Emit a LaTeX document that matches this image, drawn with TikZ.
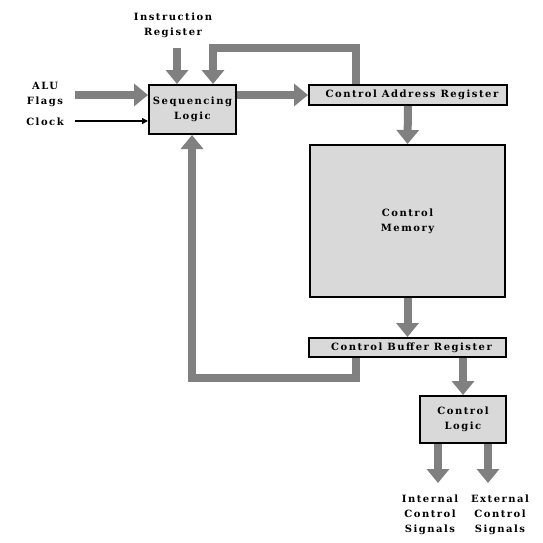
\documentclass[tikz,border=0pt]{standalone}
\usepackage{fontspec}
\setmainfont{DejaVu Serif}[LetterSpace=15]
\usetikzlibrary{positioning, arrows.meta}

\begin{document}
\begin{tikzpicture}
[
    x=1pt, y=-1pt, node distance=0.3cm,
    font=\bfseries\fontsize{10}{15}\selectfont,
    % The strategy is one box node per unit: box-<unit>
    % Loose ends of the buses are plain coordinates
]

%=================================== Start ===================================
\tikzstyle{box}  = [draw, line width=2pt, fill=gray!30, align=center, inner sep=0pt]
\tikzstyle{bus}  = [draw=gray, line width=8pt, -{Triangle[width=22pt, length=14pt]}]
\tikzstyle{wire} = [draw, line width=1.6pt, -{Triangle[length=6pt, width=6pt]}]
\tikzstyle{lbl}  = [align=center, inner sep=0pt]

\useasboundingbox (0,0) rectangle (543,542);

{
    % Units
    \node[box, minimum width=87pt, minimum height=49pt] (box-seq) at (192.5,109.5) {Sequencing\\Logic};
    \node[box, minimum width=198pt, minimum height=20pt] (box-car) at (408,95)    {\hspace{8pt}Control Address Register};
    \node[box, minimum width=195pt, minimum height=152pt] (box-mem) at (407.5,221) {Control\\Memory};
    \node[box, minimum width=197pt, minimum height=19pt] (box-cbr) at (407.5,347.5) {\hspace{8pt}Control Buffer Register};
    \node[box, minimum width=86pt, minimum height=47pt] (box-cl)  at (463,419.5) {Control\\Logic};

    % Outside labels
    \node[lbl] (lbl-ir)  at (173,25)  {Instruction\\Register};
    \node[lbl] (lbl-alu) at (45,94)   {ALU\\Flags};
    \node[lbl] (lbl-clk) at (45,122)  {Clock};
    \foreach \name / \x / \txt in {int/430/Internal, ext/500/External}
        \node[lbl] (lbl-\name) at (\x,515) {\txt\\Control\\Signals};

    % Loose ends
    \coordinate (ir-in)  at (177,48);
    \coordinate (alu-in) at (75,95);
    \coordinate (clk-in) at (75,121);
    \coordinate (tap-t)  at (356,48);
    \coordinate (top-in) at (213,48);
    \coordinate (tap-b)  at (356,378);
    \coordinate (bot-in) at (192,378);
    \foreach \name / \x in {int/438, ext/488}
        \coordinate (out-\name) at (\x,483);

    % Connect units
    \path[bus] (ir-in) -- (ir-in |- box-seq.north);
    \path[bus] (alu-in) -- (alu-in -| box-seq.west);
    \path[wire] (clk-in) -- (clk-in -| box-seq.west);
    \path[bus] (box-car.west -| box-seq.east) -- (box-car.west);
    \path[bus] (box-car.north -| tap-t) |- (top-in) -- (top-in |- box-seq.north);
    \path[bus] (box-car.south) -- (box-mem.north);
    \path[bus] (box-mem.south) -- (box-cbr.north);
    \path[bus] (box-cbr.south -| tap-b) |- (bot-in) -- (bot-in |- box-seq.south);
    \path[bus] (box-cbr.south -| box-cl.north) -- (box-cl.north);
    \foreach \name in {int, ext}
        \path[bus] (box-cl.south -| out-\name) -- (out-\name);
}
%==================================== END ====================================

\end{tikzpicture}
\end{document}
